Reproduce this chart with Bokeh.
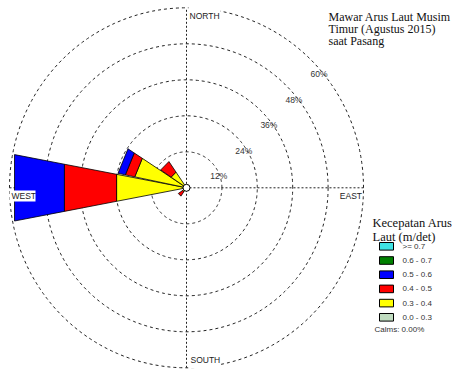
import numpy as np
from bokeh.plotting import figure
from bokeh.models import Range1d
from bokeh.embed import file_html
from bokeh.resources import INLINE
from bokeh.core.properties import value

# ---- data -------------------------------------------------------------
directions = ["N", "NNE", "NE", "ENE", "E", "ESE", "SE", "SSE",
              "S", "SSW", "SW", "WSW", "W", "WNW", "NW", "NNW"]
bearings = [0.0, 22.5, 45.0, 67.5, 90.0, 112.5, 135.0, 157.5,
            180.0, 202.5, 225.0, 247.5, 270.0, 292.5, 315.0, 337.5]

speed_classes = ["0.0 - 0.3", "0.3 - 0.4", "0.4 - 0.5",
                 "0.5 - 0.6", "0.6 - 0.7", ">= 0.7"]
class_colors = ["#c0dcc0", "#ffff00", "#ff0000",
                "#0000ff", "#008000", "#3fe3e3"]

# frequency (%) per direction for every current-speed class (m/det)
freq_00_03 = [0, 0, 0, 0, 0, 0, 0, 0, 0, 0, 0.0, 0, 0.0, 0.0, 0.0, 0]
freq_03_04 = [0, 0, 0, 0, 0, 0, 0, 0, 0, 0, 1.6, 0, 23.7, 17.6, 6.2, 0]
freq_04_05 = [0, 0, 0, 0, 0, 0, 0, 0, 0, 0, 1.7, 0, 17.7, 3.2, 4.2, 0]
freq_05_06 = [0, 0, 0, 0, 0, 0, 0, 0, 0, 0, 0.0, 0, 16.9, 2.5, 0.0, 0]
freq_06_07 = [0, 0, 0, 0, 0, 0, 0, 0, 0, 0, 0.0, 0, 0.0, 0.0, 0.0, 0]
freq_07_up = [0, 0, 0, 0, 0, 0, 0, 0, 0, 0, 0.0, 0, 0.0, 0.0, 0.0, 0]
class_freqs = [freq_00_03, freq_03_04, freq_04_05,
               freq_05_06, freq_06_07, freq_07_up]

ring_values = [12, 24, 36, 48, 60]
ring_labels = ["12%", "24%", "36%", "48%", "60%"]
calms_text = "Calms: 0.00%"

title_lines = ["Mawar Arus Laut Musim", "Timur (Agustus 2015)", "saat Pasang"]
legend_title = ["Kecepatan Arus", "Laut (m/det)"]

# ---- layout -------------------------------------------------------------
W, H = 455, 372
CX, CY = 186.0, 187.3      # pixel position of the rose centre
SX, SY = 2.95, 3.0         # pixels per percent


def px(x):
    return (x - CX) / SX


def py(y):
    return (CY - y) / SY


p = figure(width=W, height=H, output_backend="svg", toolbar_location=None,
           x_range=Range1d(px(0), px(W)), y_range=Range1d(py(H), py(0)),
           x_axis_location=None, y_axis_location=None, min_border=0,
           outline_line_color=None, background_fill_color="white")
p.grid.visible = False

# ---- rings and compass axes --------------------------------------------
t = np.linspace(0, 2 * np.pi, 361)
p.multi_line(xs=[list(r * np.cos(t)) for r in ring_values],
             ys=[list(r * np.sin(t)) for r in ring_values],
             line_color="#222222", line_width=1, line_dash="3 3")
rmax = ring_values[-1]
p.multi_line(xs=[[0, 0], [-rmax, rmax]], ys=[[-rmax, rmax], [0, 0]],
             line_color="#222222", line_width=1, line_dash="2 2")

# ---- stacked sectors -------------------------------------------------------
half = np.radians(10.75)
xs, ys, colors = [], [], []
for i, brg in enumerate(bearings):
    phi = np.radians(90.0 - brg)
    base = 0.0
    for k, freqs in enumerate(class_freqs):
        f = freqs[i]
        if f <= 0:
            continue
        r0, r1 = base, base + f
        R0, R1 = r0 / np.cos(half), r1 / np.cos(half)
        a, b = phi - half, phi + half
        if r0 == 0:
            sx = [0, R1 * np.cos(a), R1 * np.cos(b)]
            sy = [0, R1 * np.sin(a), R1 * np.sin(b)]
        else:
            sx = [R0 * np.cos(a), R1 * np.cos(a), R1 * np.cos(b), R0 * np.cos(b)]
            sy = [R0 * np.sin(a), R1 * np.sin(a), R1 * np.sin(b), R0 * np.sin(b)]
        xs.append(list(sx))
        ys.append(list(sy))
        colors.append(class_colors[k])
        base = r1
p.patches(xs=xs, ys=ys, fill_color=colors, line_color="black", line_width=0.8)

# calm circle at the centre
p.scatter(x=[0], y=[0], size=7, fill_color="white", line_color="black",
          line_width=1)

# ---- ring percentage labels -------------------------------------------------
diag = np.cos(np.radians(45))
lx = [r * diag + 7.3 / SX for r in ring_values]
ly = [r * diag - 13.9 / SY for r in ring_values]
p.text(x=lx, y=ly, text=ring_labels, text_align="center",
       text_baseline="middle", text_color="#333333",
       text_font=value("Liberation Sans"), text_font_size=value("8.5px"))

# ---- compass labels ---------------------------------------------------------
p.quad(left=[px(188), px(188), px(9)], right=[px(220), px(220), px(35)],
       top=[py(5), py(353), py(190)], bottom=[py(20), py(368), py(201)],
       fill_color="white", line_color=None)
p.text(x=[px(189), px(190), px(11)], y=[py(15.2), py(359.8), py(195.8)],
       text=["NORTH", "SOUTH", "WEST"], text_align="left",
       text_baseline="middle", text_color="#222222",
       text_font=value("Liberation Sans"), text_font_size=value("8.5px"))
p.text(x=[px(361.5)], y=[py(195.3)], text=["EAST"], text_align="right",
       text_baseline="middle", text_color="#222222",
       text_font=value("Liberation Sans"), text_font_size=value("8.5px"))

# ---- title -----------------------------------------------------------------
p.text(x=[px(328)] * 3, y=[py(16.2), py(28.4), py(40.6)], text=title_lines,
       text_align="left", text_baseline="alphabetic", text_color="#111111",
       text_font=value("Liberation Serif"), text_font_size=value("12px"))

# ---- legend ----------------------------------------------------------------
p.text(x=[px(372)] * 2, y=[py(222.8), py(236.0)], text=legend_title,
       text_align="left", text_baseline="alphabetic", text_color="#111111",
       text_font=value("Liberation Serif"), text_font_size=value("12.5px"))

rows_y = [245.8 + 14.2 * j for j in range(len(speed_classes))]
order = list(range(len(speed_classes)))[::-1]
p.quad(left=[px(379)] * len(order), right=[px(393)] * len(order),
       top=[py(y - 3.8) for y in rows_y], bottom=[py(y + 3.8) for y in rows_y],
       fill_color=[class_colors[k] for k in order], line_color="black",
       line_width=1)
p.text(x=[px(402)] * len(order), y=[py(y) for y in rows_y],
       text=[speed_classes[k] for k in order], text_align="left",
       text_baseline="middle", text_color="#333333",
       text_font=value("Liberation Sans"), text_font_size=value("8px"))
p.text(x=[px(374)], y=[py(328.5)], text=[calms_text], text_align="left",
       text_baseline="middle", text_color="#333333",
       text_font=value("Liberation Sans"), text_font_size=value("8px"))

open("out.html", "w").write(file_html(p, INLINE))
